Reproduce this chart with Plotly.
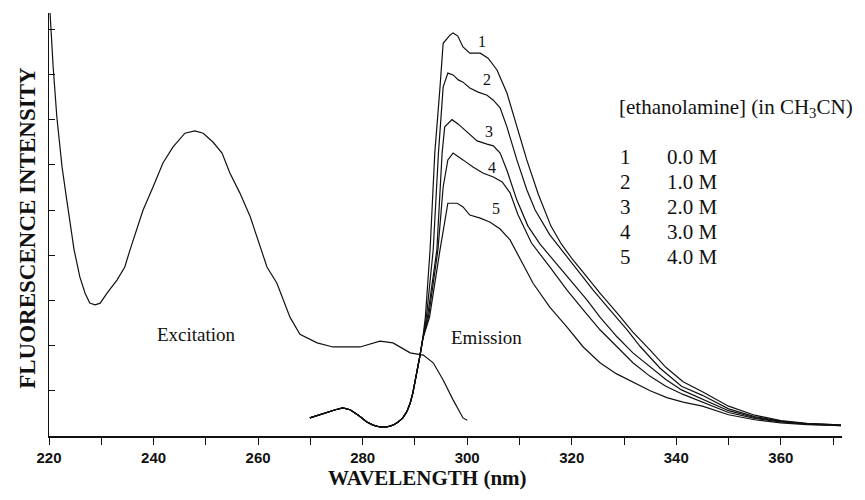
import plotly.graph_objects as go

# ---------------- data ----------------
exc_x = [220.2, 220.8, 221.5, 222.5, 223.4, 224.4, 224.8, 225.9, 226.9, 227.8, 228.8, 229.8,
         231.1, 233.0, 234.5, 235.5, 236.1, 238.0, 239.9, 241.8, 243.7, 246.0, 247.9, 249.5,
         251.4, 253.1, 254.6, 256.5, 258.5, 260.0, 261.7, 263.6, 266.1, 268.0, 271.3, 274.3,
         279.5, 283.3, 285.8, 289.1, 291.6, 293.5, 295.4, 297.3, 299.2, 300.0]
exc_y = [9.36, 8.16, 7.06, 5.95, 5.22, 4.49, 4.12, 3.52, 3.16, 2.94, 2.90, 2.94,
         3.16, 3.45, 3.74, 4.12, 4.34, 5.00, 5.51, 6.04, 6.39, 6.70, 6.75, 6.70,
         6.50, 6.26, 5.82, 5.38, 4.85, 4.34, 3.74, 3.38, 2.63, 2.25, 2.06, 1.97,
         1.97, 2.10, 2.06, 1.84, 1.79, 1.62, 1.24, 0.80, 0.40, 0.35]

# shared lower part of all emission spectra
em_base_x = [269.9, 271.5, 273.2, 274.8, 276.2, 277.6, 279.3, 280.8, 282.0, 283.3, 284.6,
             285.8, 286.8, 287.7, 288.5, 289.1, 289.6, 290.0, 290.5, 291.0, 291.5]
em_base_y = [0.40, 0.46, 0.53, 0.58, 0.62, 0.58, 0.45, 0.31, 0.24, 0.20, 0.20,
             0.24, 0.31, 0.40, 0.55, 0.73, 0.95, 1.17, 1.50, 1.80, 2.15]

em1_x = [292.0, 292.9, 293.8, 294.8, 295.4, 296.7, 297.3, 298.2, 299.2, 300.5, 302.5, 304.0,
         305.7, 307.6, 309.5, 311.4, 313.6, 316.0, 318.0, 320.2, 322.9, 325.4, 328.7, 331.7,
         335.0, 338.0, 341.3, 345.0, 350.0, 355.0, 360.0, 365.0, 370.0, 371.5]
em1_y = [2.63, 4.12, 6.26, 7.72, 8.69, 8.87, 8.92, 8.85, 8.61, 8.47, 8.47, 8.36,
         8.10, 7.59, 6.84, 6.11, 5.35, 4.65, 4.25, 3.90, 3.52, 3.16, 2.72, 2.30,
         1.90, 1.52, 1.20, 0.98, 0.66, 0.46, 0.34, 0.28, 0.25, 0.24]

em2_x = [292.2, 293.5, 294.5, 295.4, 296.3, 297.3, 298.3, 299.2, 300.5, 302.1, 303.8, 305.0,
         306.3, 307.6, 309.5, 311.4, 313.0, 315.8, 319.1, 321.6, 324.1, 327.3, 330.6, 333.1,
         336.9, 341.0, 345.0, 350.0, 355.0, 360.0, 365.0, 370.0, 371.5]
em2_y = [2.63, 4.12, 6.26, 7.72, 8.03, 7.99, 7.88, 7.83, 7.70, 7.61, 7.54, 7.43,
         7.26, 6.84, 6.11, 5.45, 5.00, 4.45, 3.96, 3.61, 3.23, 2.79, 2.35, 1.98,
         1.50, 1.10, 0.90, 0.60, 0.43, 0.33, 0.27, 0.25, 0.24]

em3_x = [292.4, 294.2, 295.2, 295.7, 297.1, 298.3, 300.0, 301.9, 303.8, 305.0, 306.3, 307.6,
         309.5, 310.7, 311.6, 313.9, 317.2, 319.7, 322.9, 325.4, 328.7, 331.7, 335.0, 338.0,
         341.0, 345.0, 350.0, 355.0, 360.0, 365.0, 370.0, 371.5]
em3_y = [2.63, 4.12, 6.26, 6.84, 7.00, 6.90, 6.73, 6.53, 6.46, 6.42, 6.26, 5.88,
         5.22, 4.90, 4.65, 4.25, 3.80, 3.45, 3.01, 2.63, 2.19, 1.84, 1.53, 1.25,
         1.02, 0.82, 0.56, 0.41, 0.32, 0.27, 0.24, 0.24]

em4_x = [292.6, 294.4, 295.4, 296.3, 297.3, 299.2, 301.1, 303.0, 305.0, 306.7, 308.2, 309.7,
         312.3, 315.8, 319.1, 322.2, 325.4, 328.7, 331.7, 335.0, 338.0, 341.3, 345.0, 350.0,
         355.0, 360.0, 365.0, 370.0, 371.5]
em4_y = [2.63, 4.12, 5.51, 6.11, 6.26, 6.11, 5.95, 5.82, 5.73, 5.62, 5.38, 4.90,
         4.27, 3.74, 3.23, 2.79, 2.35, 1.97, 1.62, 1.32, 1.10, 0.92, 0.75, 0.52,
         0.39, 0.31, 0.26, 0.24, 0.23]

em5_x = [292.8, 294.8, 295.7, 296.3, 298.1, 299.2, 300.5, 302.5, 304.4, 306.3, 308.2, 310.0,
         312.6, 315.8, 319.1, 322.2, 325.4, 328.5, 331.7, 335.0, 338.2, 341.3, 345.0, 350.0,
         355.0, 360.0, 365.0, 370.0, 371.5]
em5_y = [2.63, 4.12, 4.78, 5.15, 5.15, 5.07, 4.89, 4.82, 4.73, 4.58, 4.34, 3.95,
         3.38, 2.85, 2.41, 1.97, 1.62, 1.38, 1.19, 1.00, 0.85, 0.75, 0.66, 0.47,
         0.36, 0.29, 0.25, 0.23, 0.23]

curve_labels = ["1", "2", "3", "4", "5"]
concentrations = ["0.0 M", "1.0 M", "2.0 M", "3.0 M", "4.0 M"]

x_tickvals = [220, 240, 260, 280, 300, 320, 340, 360]
x_ticktext = ["220", "240", "260", "280", "300", "320", "340", "360"]
y_tickvals = [1, 2, 3, 4, 5, 6, 7, 8, 9]

# ---------------- figure ----------------
LINE = dict(color="#111111", width=1.2)
fig = go.Figure()
fig.add_trace(go.Scatter(x=exc_x, y=exc_y, mode="lines", line=LINE, hoverinfo="skip"))
for ex, ey in [(em1_x, em1_y), (em2_x, em2_y), (em3_x, em3_y), (em4_x, em4_y), (em5_x, em5_y)]:
    fig.add_trace(go.Scatter(x=em_base_x + ex, y=em_base_y + ey, mode="lines",
                             line=LINE, hoverinfo="skip"))

SERIF = "Liberation Serif, Times New Roman, serif"
ann = []
# curve number labels
for lab, (lx, ly) in zip(curve_labels, [(302.8, 8.72), (303.8, 7.88), (304.2, 6.73),
                                         (304.8, 5.95), (305.6, 5.04)]):
    ann.append(dict(x=lx, y=ly, text=lab, showarrow=False,
                    font=dict(family=SERIF, size=16, color="#111")))
ann.append(dict(x=248.3, y=2.24, text="Excitation", showarrow=False,
                font=dict(family=SERIF, size=19, color="#111")))
ann.append(dict(x=303.6, y=2.17, text="Emission", showarrow=False,
                font=dict(family=SERIF, size=19, color="#111")))
ann.append(dict(x=328.7, y=7.26, text="[ethanolamine] (in CH<sub>3</sub>CN)", showarrow=False,
                xanchor="left", font=dict(family=SERIF, size=21, color="#111")))
for i, (lab, conc) in enumerate(zip(curve_labels, concentrations)):
    yy = 6.17 - i * 0.553
    ann.append(dict(x=328.9, y=yy, text=lab, showarrow=False, xanchor="left",
                    font=dict(family=SERIF, size=21, color="#111")))
    ann.append(dict(x=337.9, y=yy, text=conc, showarrow=False, xanchor="left",
                    font=dict(family=SERIF, size=21, color="#111")))
# axis titles
ann.append(dict(xref="paper", yref="paper", x=0.4767, y=-0.10, text="<b>WAVELENGTH (nm)</b>",
                showarrow=False, xanchor="center", yanchor="middle",
                font=dict(family=SERIF, size=21, color="#111")))
ann.append(dict(xref="paper", yref="paper", x=-0.028, y=0.4917, text="<b>FLUORESCENCE INTENSITY</b>",
                showarrow=False, xanchor="center", yanchor="middle", textangle=-90,
                font=dict(family=SERIF, size=23, color="#111")))

# page body has an 8px margin, so the figure is drawn 8px in from the corner
fig.update_layout(
    width=849, height=484,
    margin=dict(l=41, r=15, t=5, b=56),
    paper_bgcolor="white", plot_bgcolor="white",
    showlegend=False,
    annotations=ann,
    xaxis=dict(range=[220, 371.7], tickvals=x_tickvals, ticktext=x_ticktext,
               showline=True, linecolor="#111", linewidth=1.6, ticks="outside",
               ticklen=7, tickwidth=1.2, tickcolor="#111", showgrid=False, zeroline=False,
               minor=dict(tick0=220, dtick=10, ticks="outside", ticklen=7, tickwidth=1.2,
                          tickcolor="#111", showgrid=False),
               tickfont=dict(family="Liberation Sans, Arial, sans-serif", size=15, color="#111",
                             weight="bold"),
               automargin=False),
    yaxis=dict(range=[0, 9.36], tickvals=y_tickvals, showticklabels=False,
               showline=True, linecolor="#111", linewidth=1.2, ticks="inside",
               ticklen=6, tickwidth=1.2, tickcolor="#111", showgrid=False, zeroline=False,
               automargin=False),
)

fig.write_html("out.html")
